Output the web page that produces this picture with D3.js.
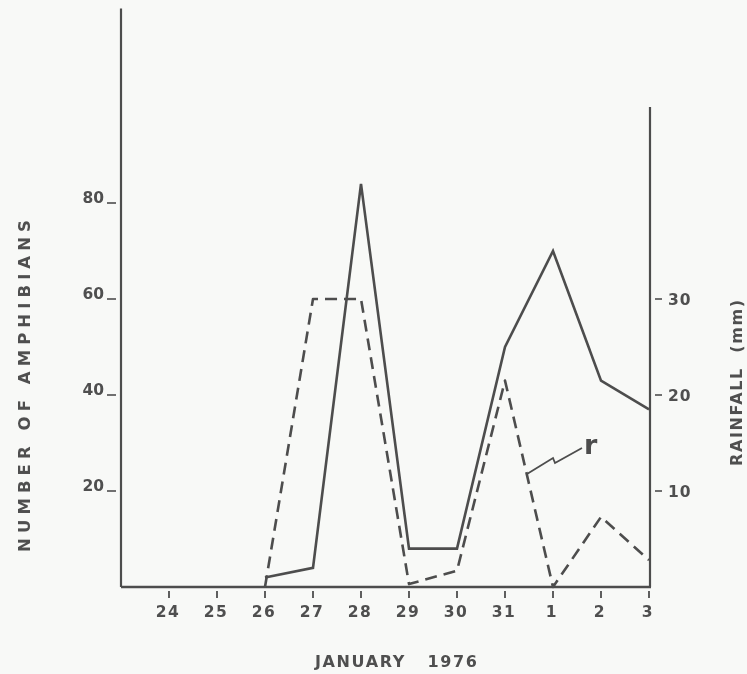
<!DOCTYPE html>
<html>
<head>
<meta charset="utf-8">
<script src="https://cdn.jsdelivr.net/npm/d3@7"></script>
<style>
  html, body { margin: 0; padding: 0; background: #f8f9f7; }
  svg { display: block; }
  text { font-family: "DejaVu Sans", "Liberation Sans", Arial, sans-serif; font-weight: bold; fill: #505050; }
</style>
</head>
<body>
<svg id="chart" width="747" height="674"></svg>
<script>
// Days of the survey (23 Jan - 3 Feb 1976); the first slot sits on the left axis, unlabeled
const days = ["23", "24", "25", "26", "27", "28", "29", "30", "31", "1", "2", "3"];
const labeledDays = ["24", "25", "26", "27", "28", "29", "30", "31", "1", "2", "3"];

// Number of amphibians captured per night (solid line, left axis); no trace before the 26th
const amphibians = [null, null, null, 2, 4, 84, 8, 8, 50, 70, 43, 37];

// Rainfall in mm (dashed line, right axis); no trace before the 26th
const rainfall = [null, null, null, 0, 30, 30, 0.3, 1.7, 21.5, 0, 7.3, 2.8];

const leftTicks = [20, 40, 60, 80];
const rightTicks = [10, 20, 30];

const ink = "#4d4d4d";
const svg = d3.select("#chart");

const defs = svg.append("defs");
defs.append("filter").attr("id", "soft")
  .append("feGaussianBlur").attr("stdDeviation", 0.35);

const x = d3.scalePoint().domain(days).range([121, 649]);
const yLeft = d3.scaleLinear().domain([0, 80]).range([587, 203]);
const yRight = d3.scaleLinear().domain([0, 30]).range([587, 299]);

const g = svg.append("g").attr("filter", "url(#soft)");

// Frame: left axis (tall), right axis (shorter), baseline
g.append("line")
  .attr("x1", x("23")).attr("x2", x("23"))
  .attr("y1", yLeft(0)).attr("y2", yLeft(120.5))
  .attr("stroke", ink).attr("stroke-width", 2.2);
g.append("line")
  .attr("x1", x("3") + 1).attr("x2", x("3") + 1)
  .attr("y1", yRight(0)).attr("y2", yRight(50))
  .attr("stroke", ink).attr("stroke-width", 2.2);
g.append("line")
  .attr("x1", x("23")).attr("x2", x("3") + 2)
  .attr("y1", yLeft(0)).attr("y2", yLeft(0))
  .attr("stroke", ink).attr("stroke-width", 2.4);

// Bottom ticks and day labels
const xt = g.append("g");
xt.selectAll("line").data(labeledDays).join("line")
  .attr("x1", d => x(d)).attr("x2", d => x(d))
  .attr("y1", 591).attr("y2", 598)
  .attr("stroke", ink).attr("stroke-width", 1.8);
xt.selectAll("text").data(labeledDays).join("text")
  .attr("x", d => x(d) - 1).attr("y", 617)
  .attr("text-anchor", "middle")
  .attr("font-size", 15.5).attr("letter-spacing", 1.5)
  .text(d => d);

// Left ticks: underscore marks beside the labels
const lt = g.append("g");
lt.selectAll("line").data(leftTicks).join("line")
  .attr("x1", 107).attr("x2", 116)
  .attr("y1", d => yLeft(d)).attr("y2", d => yLeft(d))
  .attr("stroke", ink).attr("stroke-width", 1.6);
lt.selectAll("text").data(leftTicks).join("text")
  .attr("x", 104).attr("y", d => yLeft(d))
  .attr("text-anchor", "end")
  .attr("font-size", 15.5).attr("letter-spacing", 0)
  .text(d => d);

// Right ticks
const rt = g.append("g");
rt.selectAll("line").data(rightTicks).join("line")
  .attr("x1", 655).attr("x2", 662)
  .attr("y1", d => yRight(d)).attr("y2", d => yRight(d))
  .attr("stroke", ink).attr("stroke-width", 1.6);
rt.selectAll("text").data(rightTicks).join("text")
  .attr("x", 668).attr("y", d => yRight(d) + 5.5)
  .attr("font-size", 15.5).attr("letter-spacing", 1)
  .text(d => d);

// Series lines
const amphLine = d3.line()
  .defined(d => d !== null)
  .x((d, i) => x(days[i])).y(d => yLeft(d));
const rainLine = d3.line()
  .defined(d => d !== null)
  .x((d, i) => x(days[i])).y(d => yRight(d));

g.append("path").datum(rainfall)
  .attr("d", rainLine)
  .attr("fill", "none").attr("stroke", ink)
  .attr("stroke-width", 2.6).attr("stroke-dasharray", "12,7")
  .attr("stroke-linejoin", "round");

g.append("path").datum(amphibians)
  .attr("d", amphLine)
  .attr("fill", "none").attr("stroke", ink)
  .attr("stroke-width", 2.6).attr("stroke-linejoin", "miter");

// Hand-drawn "r" marker with a zig-zag leader onto the rainfall line
g.append("path")
  .attr("d", "M527,474 L553,458 L555,463 L582,448")
  .attr("fill", "none").attr("stroke", ink).attr("stroke-width", 1.8);
g.append("text")
  .attr("x", 584).attr("y", 454)
  .attr("font-family", "Liberation Sans, sans-serif").attr("font-weight", "normal")
  .attr("font-size", 27)
  .style("fill", ink)
  .text("r");

// Axis titles, spread out to their printed widths
g.append("text")
  .attr("transform", "translate(30,386) rotate(-90)")
  .attr("text-anchor", "middle")
  .attr("font-size", 16.5)
  .attr("textLength", 332).attr("lengthAdjust", "spacing")
  .text("NUMBER OF AMPHIBIANS");

g.append("text")
  .attr("transform", "translate(742,383) rotate(-90)")
  .attr("text-anchor", "middle")
  .attr("font-size", 16)
  .attr("textLength", 166).attr("lengthAdjust", "spacing")
  .attr("xml:space", "preserve")
  .text("RAINFALL  (mm)");

g.append("text")
  .attr("x", 396).attr("y", 667)
  .attr("text-anchor", "middle")
  .attr("font-size", 16)
  .attr("textLength", 162).attr("lengthAdjust", "spacing")
  .attr("xml:space", "preserve")
  .text("JANUARY   1976");
</script>
</body>
</html>
